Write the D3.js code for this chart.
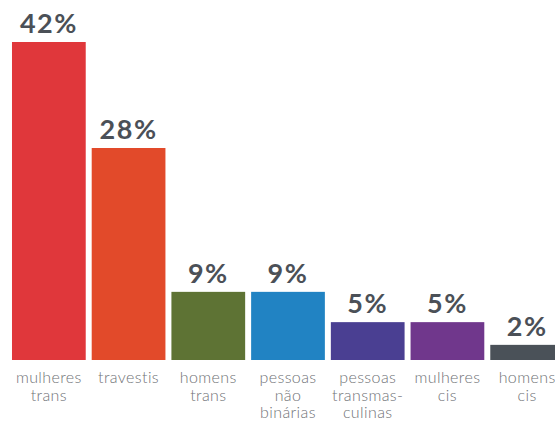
<!DOCTYPE html>
<html>
<head>
<meta charset="utf-8">
<script src="https://cdn.jsdelivr.net/npm/d3@7"></script>
<style>
  body { margin: 0; background: #fff; }
  .valueText { font-family: Lato, sans-serif; font-weight: 700; font-size: 27px; letter-spacing: 1.5px; fill: #4b5057; }
  .catText { font-family: Lato, sans-serif; font-weight: 300; font-size: 16px; letter-spacing: 0.4px; fill: #6f7276; }
</style>
</head>
<body>
<div id="chart"></div>
<script>
// Data
var categories = ["mulheres\ntrans", "travestis", "homens\ntrans", "pessoas\nnão\nbinárias",
  "pessoas\ntransmas-\nculinas", "mulheres\ncis", "homens\ncis"];
var values = [42, 28, 9, 9, 5, 5, 2];
var colors = ["#e0373b", "#e24a2a", "#5e7334", "#2183c3", "#4a3f92", "#70378c", "#4a5158"];

var svgWidth = 555;
var svgHeight = 423;

var svg = d3.select("#chart")
  .append("svg")
  .attr("width", svgWidth)
  .attr("height", svgHeight);

var data = categories.map(function(c, i) {
  return { cat: c, value: values[i], color: colors[i] };
});

// Scales
var xScale = d3.scaleBand()
  .domain(categories)
  .range([9, 567])
  .paddingInner(0.075)
  .paddingOuter(0.0375);

var yScale = d3.scaleLinear()
  .domain([0, 42])
  .range([360, 42]);

// Bars
svg.selectAll("rect")
  .data(data)
  .enter()
  .append("rect")
  .attr("x", d => xScale(d.cat))
  .attr("y", d => yScale(d.value))
  .attr("width", xScale.bandwidth())
  .attr("height", d => yScale(0) - yScale(d.value))
  .attr("fill", d => d.color);

// Value labels above bars
svg.selectAll(".valueText")
  .data(data)
  .enter()
  .append("text")
  .attr("class", "valueText")
  .attr("x", d => xScale(d.cat) + xScale.bandwidth() / 2)
  .attr("y", d => yScale(d.value) - 9)
  .attr("text-anchor", "middle")
  .text(d => d.value + "%");

// Category labels under bars (multi-line)
var catLabels = svg.selectAll(".catText")
  .data(data)
  .enter()
  .append("text")
  .attr("class", "catText")
  .attr("text-anchor", "middle")
  .attr("x", d => xScale(d.cat) + xScale.bandwidth() / 2)
  .attr("y", yScale(0) + 23);

catLabels.selectAll("tspan")
  .data(d => d.cat.split("\n").map(function(line) { return { line: line, x: xScale(d.cat) + xScale.bandwidth() / 2 }; }))
  .enter()
  .append("tspan")
  .attr("x", t => t.x)
  .attr("dy", (t, i) => i === 0 ? 0 : 17.5)
  .text(t => t.line);
</script>
</body>
</html>
